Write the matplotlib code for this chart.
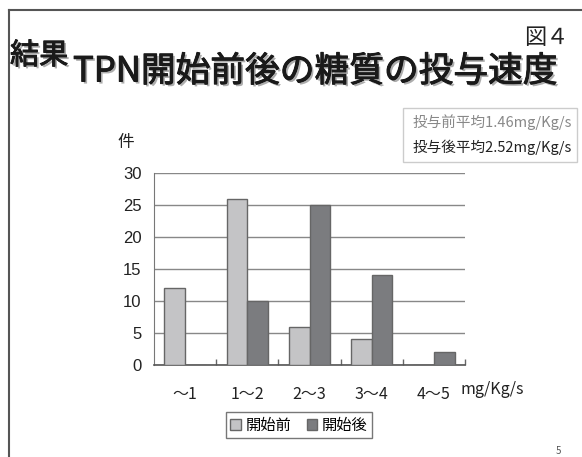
import matplotlib.pyplot as plt
import matplotlib.patheffects as pe
from matplotlib.patches import Rectangle
from matplotlib.lines import Line2D
import numpy as np

plt.rcParams['font.family'] = ['Noto Sans CJK JP', 'DejaVu Sans']

# 投与速度の区分ごとの件数
categories = ['～1', '1～2', '2～3', '3～4', '4～5']
before = [12, 26, 6, 4, 0]
after = [0, 10, 25, 14, 2]
series_names = ['開始前', '開始後']
yticks = [0, 5, 10, 15, 20, 25, 30]
mean_lines = ['投与前平均1.46mg/Kg/s', '投与後平均2.52mg/Kg/s']

W, H = 582, 457
fig = plt.figure(figsize=(W / 100, H / 100), dpi=100)

def fx(px):
    return px / W

def fy(py):
    return 1 - py / H

# スライド枠（上と左のみ）
fig.add_artist(Line2D([fx(9), fx(9)], [fy(10), 0], color='#555555', lw=1.5))
fig.add_artist(Line2D([fx(9), 1], [fy(10), fy(10)], color='#555555', lw=1.5))

# タイトル（影つき）
shadow = [pe.withSimplePatchShadow(offset=(1.5, -1.5), shadow_rgbFace='#999999', alpha=0.8),
          pe.Stroke(linewidth=0.7, foreground='#1a1a1a'), pe.Normal()]
fig.text(fx(10), fy(56), '結果', fontsize=21, ha='left', va='center', color='#1a1a1a',
         path_effects=shadow)
fig.text(fx(73), fy(72), 'TPN開始前後の糖質の投与速度', fontsize=25,
         ha='left', va='center', color='#1a1a1a', path_effects=shadow)
fig.text(fx(546), fy(38), '図４', fontsize=16, ha='center', va='center', color='#222222')

# 平均値の枠
fig.add_artist(Rectangle((fx(403), fy(162)), fx(577) - fx(403), fy(108) - fy(162),
                         transform=fig.transFigure, fill=False, edgecolor='#cccccc', lw=1))
fig.text(fx(413), fy(122), mean_lines[0], fontsize=10.5, color='#888888', va='center')
fig.text(fx(413), fy(147), mean_lines[1], fontsize=10.5, color='#222222', va='center')

# グラフ本体
ax = fig.add_axes([fx(154), fy(365), fx(465) - fx(154), fy(173) - fy(365)])
x = np.arange(len(categories))
w = 1 / 3
light, dark = '#c4c4c6', '#7b7c7f'
b1 = ax.bar(x - w / 2, before, w, color=light, edgecolor='#666666', lw=1, zorder=3,
            label=series_names[0])
b2 = ax.bar(x + w / 2, after, w, color=dark, edgecolor='#666666', lw=1, zorder=3,
            label=series_names[1])

ax.set_xlim(-0.5, len(categories) - 0.5)
ax.set_ylim(0, 30)
ax.set_yticks(yticks)
ax.set_yticklabels([str(v) for v in yticks], family='Liberation Sans', fontsize=12)
ax.yaxis.grid(True, color='#888888', lw=1, zorder=0)
ax.tick_params(axis='y', length=0, pad=9, labelcolor='#222222')
ax.set_xticks(x)
ax.set_xticklabels(categories)
ax.tick_params(axis='x', length=0, labelsize=11.5, pad=15, labelcolor='#222222')
ax.set_xticks(np.arange(0.5, len(categories)), minor=True)
ax.tick_params(axis='x', which='minor', direction='in', length=4, color='#666666', width=1)
for s in ['top', 'right']:
    ax.spines[s].set_visible(False)
ax.spines['left'].set_color('#777777')
ax.spines['bottom'].set_color('#555555')
ax.spines['bottom'].set_linewidth(1.2)

fig.text(fx(126), fy(143), '件', fontsize=12, ha='center', va='center', color='#222222')
fig.text(fx(461), fy(390), 'mg/Kg/s', fontsize=11.5, ha='left', va='center', color='#222222')

fig.legend(handles=[b1, b2], loc='center', bbox_to_anchor=(fx(299), fy(425)), ncol=2,
           fontsize=11, frameon=True, fancybox=False, edgecolor='#555555',
           handlelength=0.7, handleheight=0.7, handletextpad=0.3, columnspacing=1.0,
           borderpad=0.3)

fig.text(fx(558), fy(451), '5', fontsize=7, ha='center', va='center', color='#555555')

fig.savefig('out.png', dpi=100)
